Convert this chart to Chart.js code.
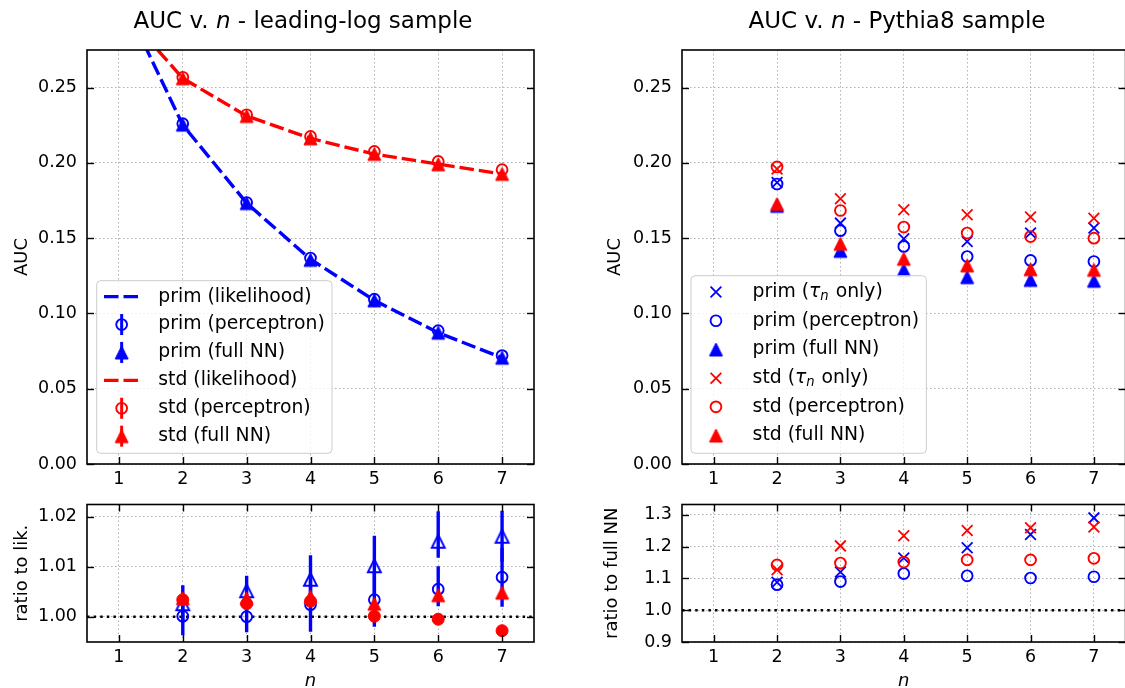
<!DOCTYPE html>
<html>
<head>
<meta charset="utf-8">
<script src="https://cdn.jsdelivr.net/npm/chart.js@4.4.1/dist/chart.umd.min.js"></script>
<style>
html, body { margin: 0; padding: 0; background: #ffffff; overflow: hidden; width: 1125px; height: 688px; }
body { position: relative; }
canvas { position: absolute; }
</style>
</head>
<body>
<canvas id="tl" width="545" height="500" style="left:0px;top:0px;width:545px;height:500px"></canvas>
<canvas id="bl" width="545" height="214" style="left:0px;top:484px;width:545px;height:214px"></canvas>
<canvas id="tr" width="545" height="500" style="left:590px;top:0px;width:545px;height:500px"></canvas>
<canvas id="br" width="545" height="214" style="left:590px;top:484px;width:545px;height:214px"></canvas>
<script>
// ================= DATA =================
const nAll = [1, 2, 3, 4, 5, 6, 7];          // n values for likelihood curves
const nPts = [2, 3, 4, 5, 6, 7];             // n values for network points
const xTickVals = [1, 2, 3, 4, 5, 6, 7];
const yTicksAUC = [0.00, 0.05, 0.10, 0.15, 0.20, 0.25];
const yTicksRatioLik = [1.00, 1.01, 1.02];
const yTicksRatioNN = [0.9, 1.0, 1.1, 1.2, 1.3];
const ratioReference = 1.0;

// leading-log sample: AUC
const llPrimLik  = [0.314, 0.2252, 0.1733, 0.1360, 0.1087, 0.0872, 0.0706];
const llStdLik   = [0.304, 0.2562, 0.2312, 0.2163, 0.2058, 0.1992, 0.1926];
const llPrimPerc = [0.2261, 0.1737, 0.1368, 0.1095, 0.0886, 0.0720];
const llPrimNN   = [0.2254, 0.1733, 0.1356, 0.1087, 0.0872, 0.0706];
const llStdPerc  = [0.2569, 0.2320, 0.2176, 0.2076, 0.2010, 0.1955];
const llStdNN    = [0.2562, 0.2312, 0.2163, 0.2060, 0.1991, 0.1927];

// leading-log sample: ratio to likelihood
const rPrimPerc      = [1.0001, 1.0000, 1.0024, 1.0034, 1.0055, 1.0079];
const rPrimPercErrLo = [0.0038, 0.0031, 0.0054, 0.0054, 0.0034, 0.0059];
const rPrimPercErrHi = [0.0038, 0.0031, 0.0054, 0.0054, 0.0046, 0.0059];
const rPrimNN        = [1.0026, 1.0052, 1.0075, 1.0102, 1.0151, 1.0161];
const rPrimNNErrLo   = [0.0037, 0.0030, 0.0048, 0.0060, 0.0033, 0.0051];
const rPrimNNErrHi   = [0.0037, 0.0030, 0.0048, 0.0060, 0.0060, 0.0051];
const rStdPerc       = [1.0034, 1.0026, 1.0031, 1.0001, 0.9995, 0.9972];
const rStdNN         = [1.0037, 1.0037, 1.0040, 1.0026, 1.0043, 1.0048];

// Pythia8 sample: AUC
const pyPrimTau  = [0.1870, 0.1600, 0.1496, 0.1478, 0.1534, 0.1567];
const pyPrimPerc = [0.1860, 0.1550, 0.1445, 0.1378, 0.1352, 0.1345];
const pyPrimNN   = [0.1715, 0.1416, 0.1290, 0.1241, 0.1223, 0.1217];
const pyStdTau   = [0.1960, 0.1762, 0.1689, 0.1656, 0.1640, 0.1633];
const pyStdPerc  = [0.1973, 0.1684, 0.1574, 0.1534, 0.1511, 0.1500];
const pyStdNN    = [0.1727, 0.1463, 0.1363, 0.1319, 0.1294, 0.1290];

// Pythia8 sample: ratio to full NN
const pyRPrimTau  = [1.088, 1.120, 1.164, 1.196, 1.238, 1.290];
const pyRPrimPerc = [1.080, 1.090, 1.115, 1.108, 1.101, 1.105];
const pyRStdTau   = [1.127, 1.202, 1.234, 1.250, 1.259, 1.261];
const pyRStdPerc  = [1.142, 1.148, 1.151, 1.158, 1.158, 1.163];

const titleLL = [['AUC v. ', 'normal'], ['n', 'italic'], [' - leading-log sample', 'normal']];
const titlePy = [['AUC v. ', 'normal'], ['n', 'italic'], [' - Pythia8 sample', 'normal']];

// ================= STYLE =================
const FONT = "'DejaVu Sans', sans-serif";
const BLUE = '#0000ff', RED = '#ff0000';
const TICK_FONT = 17.5, LABEL_FONT = 18, LEGEND_FONT = 18.8, TITLE_FONT = 23;

function triImg(color, filled, s, lw) {
  const c = document.createElement('canvas');
  const pad = Math.ceil(lw) + 1;
  c.width = c.height = s + 2 * pad;
  const g = c.getContext('2d');
  const m = c.width / 2, h = s / 2;
  g.beginPath(); g.moveTo(m, m - h); g.lineTo(m - h, m + h); g.lineTo(m + h, m + h); g.closePath();
  g.lineJoin = 'miter';
  if (filled) { g.fillStyle = color; g.fill(); }
  g.lineWidth = lw; g.strokeStyle = color; g.stroke();
  return c;
}
const pts = (xs, ys) => xs.map((x, i) => ({x: x, y: ys[i]}));
const openCircle = c => ({pointStyle: 'circle', pointRadius: 5.4, pointBorderWidth: 1.9, pointBorderColor: c, pointBackgroundColor: 'rgba(0,0,0,0)', borderColor: c});
const filledCircle = c => ({pointStyle: 'circle', pointRadius: 6, pointBorderWidth: 1, pointBorderColor: c, pointBackgroundColor: c, borderColor: c});
const xMark = c => ({pointStyle: 'crossRot', pointRadius: 7.6, pointBorderWidth: 1.8, pointBorderColor: c, pointBackgroundColor: c, borderColor: c});
const triangle = (c, filled) => ({pointStyle: triImg(c, filled, 13, filled ? 1 : 1.9), pointRadius: 6, pointBorderColor: c, pointBackgroundColor: c, borderColor: c});
const dashedLine = (label, xs, ys, c) => ({label, data: pts(xs, ys), showLine: true, borderColor: c, borderWidth: 3.4, borderDash: [14.5, 5], pointRadius: 0, fill: false, tension: 0, clip: 0});
const points = (label, xs, ys, style, extra) => Object.assign({label, data: pts(xs, ys), showLine: false, clip: false}, style, extra || {});

// ================= PLUGIN (error bars, frame, ticks, legend, title) =================
function drawLabel(ctx, text, x, y, size) {
  const parts = text.split('τ_n');
  let cx = x;
  ctx.textBaseline = 'middle'; ctx.textAlign = 'left';
  const normal = `${size}px ${FONT}`, ital = `italic ${size}px ${FONT}`, sub = `italic ${size * 0.7}px ${FONT}`;
  parts.forEach((p, i) => {
    ctx.font = normal; ctx.fillText(p, cx, y); cx += ctx.measureText(p).width;
    if (i < parts.length - 1) {
      ctx.font = ital; ctx.fillText('τ', cx, y); cx += ctx.measureText('τ').width;
      ctx.font = sub; ctx.fillText('n', cx, y + size * 0.22); cx += ctx.measureText('n').width + 1;
    }
  });
  return cx - x;
}
function measureLabel(ctx, text, size) {
  const parts = text.split('τ_n');
  let w = 0;
  parts.forEach((p, i) => {
    ctx.font = `${size}px ${FONT}`; w += ctx.measureText(p).width;
    if (i < parts.length - 1) {
      ctx.font = `italic ${size}px ${FONT}`; w += ctx.measureText('τ').width;
      ctx.font = `italic ${size * 0.7}px ${FONT}`; w += ctx.measureText('n').width + 1;
    }
  });
  return w;
}
function drawMarker(ctx, d, x, y) {
  const st = d.pointStyle;
  ctx.save();
  if (st && typeof st === 'object') {
    ctx.drawImage(st, x - st.width / 2, y - st.height / 2);
  } else if (st === 'circle') {
    ctx.beginPath(); ctx.arc(x, y, d.pointRadius, 0, Math.PI * 2);
    if (d.pointBackgroundColor && d.pointBackgroundColor !== 'rgba(0,0,0,0)') { ctx.fillStyle = d.pointBackgroundColor; ctx.fill(); }
    ctx.lineWidth = d.pointBorderWidth; ctx.strokeStyle = d.pointBorderColor; ctx.stroke();
  } else if (st === 'crossRot') {
    const o = d.pointRadius * Math.SQRT1_2;
    ctx.beginPath(); ctx.moveTo(x - o, y - o); ctx.lineTo(x + o, y + o); ctx.moveTo(x + o, y - o); ctx.lineTo(x - o, y + o);
    ctx.lineWidth = d.pointBorderWidth; ctx.strokeStyle = d.pointBorderColor; ctx.stroke();
  }
  ctx.restore();
}

const decoPlugin = {
  id: 'deco',
  beforeDatasetDraw(chart, args) {
    const ds = chart.data.datasets[args.index];
    if (!ds.errLo) return;
    const ctx = chart.ctx, a = chart.chartArea, xs = chart.scales.x, ys = chart.scales.y;
    ctx.save();
    ctx.beginPath(); ctx.rect(a.left, a.top, a.right - a.left, a.bottom - a.top); ctx.clip();
    ctx.strokeStyle = ds.borderColor; ctx.lineWidth = 3.4; ctx.lineCap = 'butt';
    ds.data.forEach((p, i) => {
      const px = xs.getPixelForValue(p.x);
      ctx.beginPath();
      ctx.moveTo(px, ys.getPixelForValue(p.y - ds.errLo[i]));
      ctx.lineTo(px, ys.getPixelForValue(p.y + ds.errHi[i]));
      ctx.stroke();
    });
    ctx.restore();
  },
  afterDatasetsDraw(chart, args, opts) {
    const ctx = chart.ctx, a = chart.chartArea, xs = chart.scales.x, ys = chart.scales.y;
    ctx.save();
    ctx.strokeStyle = '#000'; ctx.lineWidth = 1.4; ctx.lineCap = 'butt';
    const L = 7;
    xs.ticks.forEach(t => {
      const px = Math.round(xs.getPixelForValue(t.value)) + 0.5;
      ctx.beginPath(); ctx.moveTo(px, a.bottom); ctx.lineTo(px, a.bottom - L); ctx.stroke();
      if (opts.topTicks) { ctx.beginPath(); ctx.moveTo(px, a.top); ctx.lineTo(px, a.top + L); ctx.stroke(); }
    });
    ys.ticks.forEach(t => {
      const py = Math.round(ys.getPixelForValue(t.value)) + 0.5;
      ctx.beginPath(); ctx.moveTo(a.left, py); ctx.lineTo(a.left + L, py); ctx.stroke();
      ctx.beginPath(); ctx.moveTo(a.right, py); ctx.lineTo(a.right - L, py); ctx.stroke();
    });
    ctx.lineWidth = 1.6;
    ctx.strokeRect(a.left, a.top, a.right - a.left, a.bottom - a.top);
    ctx.restore();
  },
  afterDraw(chart, args, opts) {
    const ctx = chart.ctx, a = chart.chartArea;
    if (opts.title) {
      const T = opts.title;
      let total = 0;
      T.parts.forEach(p => { ctx.font = `${p[1] === 'italic' ? 'italic ' : ''}${TITLE_FONT}px ${FONT}`; total += ctx.measureText(p[0]).width; });
      let x = T.cx - total / 2;
      ctx.save(); ctx.fillStyle = '#000'; ctx.textBaseline = 'middle'; ctx.textAlign = 'left';
      T.parts.forEach(p => { ctx.font = `${p[1] === 'italic' ? 'italic ' : ''}${TITLE_FONT}px ${FONT}`; ctx.fillText(p[0], x, T.cy); x += ctx.measureText(p[0]).width; });
      ctx.restore();
    }
    if (opts.legend) {
      const Lg = opts.legend;
      const items = chart.data.datasets.filter(d => d.label);
      ctx.save();
      const textW = Math.max(...items.map(d => measureLabel(ctx, d.label, LEGEND_FONT)));
      const w = Lg.padX * 2 + Lg.handleLen + Lg.gap + textW;
      const h = Lg.padTop + Lg.padBottom + items.length * Lg.rowH;
      const left = a.left + Lg.dx, bottom = a.bottom - Lg.dy, top = bottom - h;
      ctx.beginPath();
      if (ctx.roundRect) ctx.roundRect(left, top, w, h, 4); else ctx.rect(left, top, w, h);
      ctx.fillStyle = 'rgba(255,255,255,0.8)'; ctx.fill();
      ctx.lineWidth = 1; ctx.strokeStyle = '#cccccc'; ctx.stroke();
      items.forEach((d, i) => {
        const cy = top + Lg.padTop + Lg.rowH * (i + 0.5);
        const hx = left + Lg.padX, hc = hx + Lg.handleLen / 2;
        if (d.showLine) {
          ctx.save(); ctx.strokeStyle = d.borderColor; ctx.lineWidth = d.borderWidth; ctx.setLineDash(d.borderDash || []);
          ctx.beginPath(); ctx.moveTo(hx, cy); ctx.lineTo(hx + Lg.handleLen, cy); ctx.stroke(); ctx.restore();
        } else {
          if (d.legendErr) {
            ctx.save(); ctx.strokeStyle = d.borderColor; ctx.lineWidth = 3;
            ctx.beginPath(); ctx.moveTo(hc, cy - 10.5); ctx.lineTo(hc, cy + 10.5); ctx.stroke(); ctx.restore();
          }
          drawMarker(ctx, d, hc, cy);
        }
        ctx.fillStyle = '#000';
        drawLabel(ctx, d.label, hx + Lg.handleLen + Lg.gap, cy, LEGEND_FONT);
      });
      ctx.restore();
    }
  }
};

// ================= CHART FACTORY =================
function makePanel(id, o) {
  const datasets = o.datasets.map((d, i) => Object.assign({order: 100 - i}, d));
  return new Chart(document.getElementById(id), {
    type: 'scatter',
    data: {datasets},
    options: {
      responsive: false, animation: false, devicePixelRatio: 1,
      events: [],
      layout: {padding: o.pad},
      plugins: {legend: {display: false}, tooltip: {enabled: false}, deco: o.deco},
      scales: {
        x: {
          type: 'linear', min: 0.5, max: 7.5,
          afterBuildTicks: s => { s.ticks = xTickVals.map(v => ({value: v})); },
          afterFit: s => { s.height = o.xh; },
          ticks: {font: {family: FONT, size: TICK_FONT}, color: '#000', padding: 5, autoSkip: false, maxRotation: 0, callback: v => String(v)},
          grid: {color: '#b0b0b0', lineWidth: 1, drawTicks: false},
          border: {display: false, dash: [1.5, 2.5]},
          title: o.xTitle ? {display: true, text: o.xTitle, color: '#000', font: {family: FONT, size: LABEL_FONT, style: 'italic'}, padding: {top: 0, bottom: o.xTitlePad}} : {display: false}
        },
        y: {
          type: 'linear', min: o.ymin, max: o.ymax,
          afterBuildTicks: s => { s.ticks = o.yTicks.map(v => ({value: v})); },
          afterFit: s => { s.width = o.yw; },
          ticks: {font: {family: FONT, size: TICK_FONT}, color: '#000', padding: 10, autoSkip: false, callback: v => v.toFixed(o.yDec)},
          grid: {color: '#b0b0b0', lineWidth: 1, drawTicks: false},
          border: {display: false, dash: [1.5, 2.5]},
          title: {display: true, text: o.yTitle, color: '#000', font: {family: FONT, size: LABEL_FONT}, padding: {top: o.yTitlePad, bottom: 0}}
        }
      }
    },
    plugins: [decoPlugin]
  });
}

const refX = [0.5, 7.5];
const refLine = (ys) => ({data: pts(refX, ys), showLine: true, borderColor: '#000', borderWidth: 2.5, borderDash: [2.5, 4.1], pointRadius: 0, fill: false, clip: 0});

const legendLL = {dx: 9.7, dy: 10.7, padX: 7.3, handleLen: 35.3, gap: 19, rowH: 27.9, padTop: 2, padBottom: 3.2};
const legendPy = {dx: 9.0, dy: 10.7, padX: 7.3, handleLen: 35.3, gap: 19, rowH: 28.7, padTop: 2, padBottom: 3.4};

// Top-left: leading-log AUC
makePanel('tl', {
  pad: {top: 50, right: 11, left: 0, bottom: 0}, yw: 87, xh: 36,
  ymin: 0, ymax: 0.275, yTicks: yTicksAUC, yDec: 2, yTitle: 'AUC', yTitlePad: 11.2,
  deco: {title: {parts: titleLL, cx: 303, cy: 22}, legend: legendLL},
  datasets: [
    dashedLine('prim (likelihood)', nAll, llPrimLik, BLUE),
    points('prim (perceptron)', nPts, llPrimPerc, openCircle(BLUE), {legendErr: true}),
    points('prim (full NN)', nPts, llPrimNN, triangle(BLUE, true), {legendErr: true}),
    dashedLine('std (likelihood)', nAll, llStdLik, RED),
    points('std (perceptron)', nPts, llStdPerc, openCircle(RED), {legendErr: true}),
    points('std (full NN)', nPts, llStdNN, triangle(RED, true), {legendErr: true})
  ]
});

// Bottom-left: ratio to likelihood
makePanel('bl', {
  pad: {top: 10, right: 11, left: 0, bottom: 0}, yw: 87, xh: 56,
  ymin: 0.99494, ymax: 1.02245, yTicks: yTicksRatioLik, yDec: 2, yTitle: 'ratio to lik.', yTitlePad: 11.2,
  xTitle: 'n', xTitlePad: 6.2,
  deco: {topTicks: true},
  datasets: [
    refLine(refX.map(() => ratioReference)),
    points(null, nPts, rPrimPerc, openCircle(BLUE), {errLo: rPrimPercErrLo, errHi: rPrimPercErrHi}),
    points(null, nPts, rPrimNN, triangle(BLUE, false), {errLo: rPrimNNErrLo, errHi: rPrimNNErrHi}),
    points(null, nPts, rStdPerc, filledCircle(RED)),
    points(null, nPts, rStdNN, triangle(RED, true))
  ]
});

// Top-right: Pythia8 AUC
makePanel('tr', {
  pad: {top: 50, right: 8, left: 0, bottom: 0}, yw: 92, xh: 36,
  ymin: 0, ymax: 0.275, yTicks: yTicksAUC, yDec: 2, yTitle: 'AUC', yTitlePad: 14.2,
  deco: {title: {parts: titlePy, cx: 307, cy: 22}, legend: legendPy},
  datasets: [
    points('prim (τ_n only)', nPts, pyPrimTau, xMark(BLUE)),
    points('prim (perceptron)', nPts, pyPrimPerc, openCircle(BLUE)),
    points('prim (full NN)', nPts, pyPrimNN, triangle(BLUE, true)),
    points('std (τ_n only)', nPts, pyStdTau, xMark(RED)),
    points('std (perceptron)', nPts, pyStdPerc, openCircle(RED)),
    points('std (full NN)', nPts, pyStdNN, triangle(RED, true))
  ]
});

// Bottom-right: ratio to full NN
makePanel('br', {
  pad: {top: 10, right: 8, left: 0, bottom: 0}, yw: 92, xh: 56,
  ymin: 0.9, ymax: 1.332, yTicks: yTicksRatioNN, yDec: 1, yTitle: 'ratio to full NN', yTitlePad: 12,
  xTitle: 'n', xTitlePad: 6.2,
  deco: {topTicks: true},
  datasets: [
    refLine(refX.map(() => ratioReference)),
    points(null, nPts, pyRPrimTau, xMark(BLUE)),
    points(null, nPts, pyRPrimPerc, openCircle(BLUE)),
    points(null, nPts, pyRStdTau, xMark(RED)),
    points(null, nPts, pyRStdPerc, openCircle(RED))
  ]
});
</script>
</body>
</html>
